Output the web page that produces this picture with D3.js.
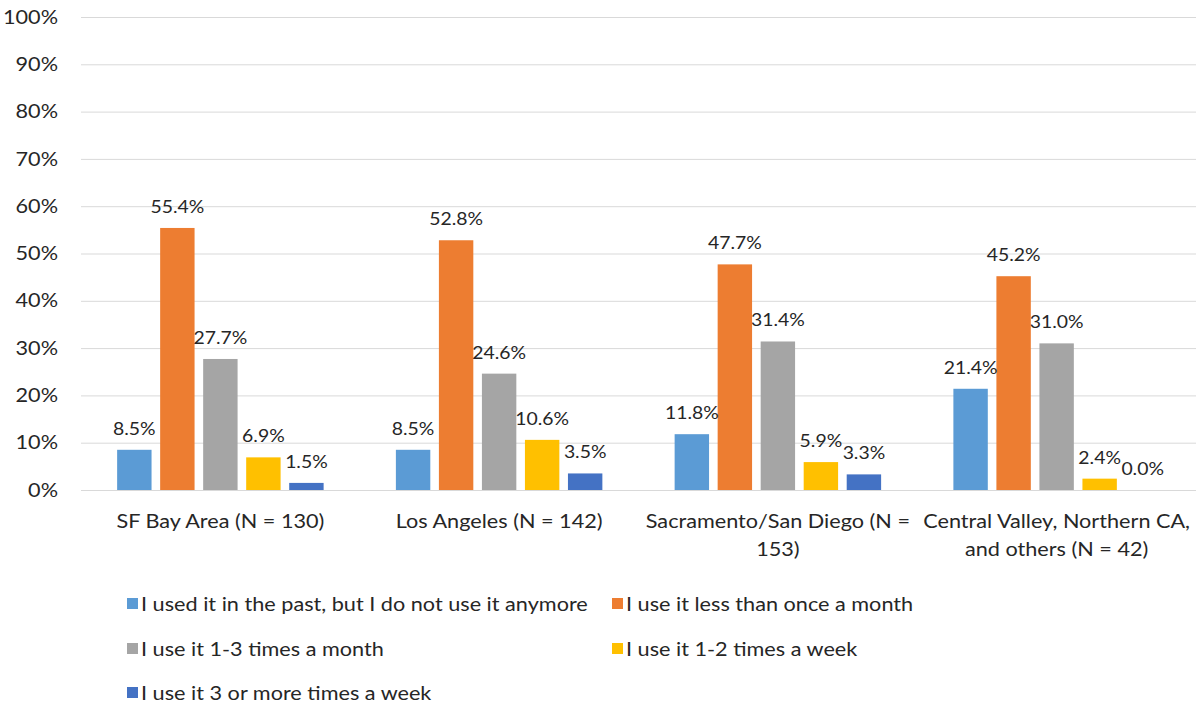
<!DOCTYPE html>
<meta charset="utf-8">
<style>
body { margin: 0; background: #fff; }
text { font-family: Lato, sans-serif; fill: #262626; }
.grid line { stroke: #d9d9d9; stroke-width: 1px; }
</style>
<svg width="1199" height="706"></svg>
<script src="https://cdn.jsdelivr.net/npm/d3@7"></script>
<script>
var categories = [
  ["SF Bay Area (N = 130)"],
  ["Los Angeles (N = 142)"],
  ["Sacramento/San Diego (N =", "153)"],
  ["Central Valley, Northern CA,", "and others (N = 42)"]
];
var seriesNames = [
  "I used it in the past, but I do not use it anymore",
  "I use it less than once a month",
  "I use it 1-3 times a month",
  "I use it 1-2 times a week",
  "I use it 3 or more times a week"
];
var values = [
  [8.5, 55.4, 27.7, 6.9, 1.5],
  [8.5, 52.8, 24.6, 10.6, 3.5],
  [11.8, 47.7, 31.4, 5.9, 3.3],
  [21.4, 45.2, 31.0, 2.4, 0.0]
];
var yTicks = [0, 10, 20, 30, 40, 50, 60, 70, 80, 90, 100];
var colors = ["#5b9bd5", "#ed7d31", "#a5a5a5", "#ffc000", "#4472c4"];

// the reference text is a little wider than Lato; stretch it horizontally
var sx = 1.14;

var svg = d3.select("svg"),
    plotLeft = 81, plotRight = 1196, plotTop = 17, plotBottom = 490;

var x0 = d3.scaleBand().domain(d3.range(categories.length)).range([plotLeft, plotRight]);
var x1 = d3.scaleBand().domain(d3.range(seriesNames.length))
    .range([0, x0.bandwidth()]).paddingInner(0.2).paddingOuter(0.84);
var y = d3.scaleLinear().domain([0, 100]).range([plotBottom, plotTop]);

var grid = svg.append("g").attr("class", "grid");
grid.selectAll("line").data(yTicks).enter().append("line")
    .attr("x1", plotLeft).attr("x2", plotRight)
    .attr("y1", function(d) { return y(d) + 0.5; })
    .attr("y2", function(d) { return y(d) + 0.5; });

svg.append("g").selectAll("g").data(yTicks).enter().append("g")
    .attr("transform", function(d) { return "translate(58," + y(d) + ") scale(" + sx + ",1)"; })
  .append("text")
    .attr("dy", "0.35em").attr("text-anchor", "end")
    .style("font-size", "19px")
    .text(function(d) { return d + "%"; });

var group = svg.selectAll(".cat").data(values).enter().append("g")
    .attr("class", "cat")
    .attr("transform", function(d, i) { return "translate(" + x0(i) + ",0)"; });

group.selectAll("rect").data(function(d) { return d; }).enter().append("rect")
    .attr("x", function(d, j) { return x1(j); })
    .attr("width", x1.bandwidth())
    .attr("y", function(d) { return y(d); })
    .attr("height", function(d) { return plotBottom - y(d); })
    .attr("fill", function(d, j) { return colors[j]; });

group.selectAll(".lbl").data(function(d) { return d; }).enter().append("g")
    .attr("class", "lbl")
    .attr("transform", function(d, j) {
      return "translate(" + (x1(j) + x1.bandwidth() / 2) + "," + (y(d) - 15) + ") scale(" + sx + ",1)";
    })
  .append("text")
    .attr("text-anchor", "middle")
    .style("font-size", "17px")
    .text(function(d) { return d.toFixed(1) + "%"; });

svg.selectAll(".catlbl").data(categories).enter().append("g")
    .attr("class", "catlbl")
    .attr("transform", function(d, i) { return "translate(" + (x0(i) + x0.bandwidth() / 2) + ",528) scale(" + sx + ",1)"; })
  .append("text")
    .attr("text-anchor", "middle")
    .style("font-size", "19px")
  .selectAll("tspan").data(function(d) { return d; }).enter().append("tspan")
    .attr("x", 0).attr("y", function(d, k) { return k * 28; })
    .text(function(d) { return d; });

var legendPos = [[127, 604], [612, 604], [127, 649], [612, 649], [127, 693]];
var legend = svg.selectAll(".leg").data(seriesNames).enter().append("g")
    .attr("class", "leg")
    .attr("transform", function(d, i) { return "translate(" + legendPos[i][0] + "," + legendPos[i][1] + ")"; });
legend.append("rect").attr("x", 0).attr("y", -6).attr("width", 11).attr("height", 11)
    .attr("fill", function(d, i) { return colors[i]; });
legend.append("g").attr("transform", "translate(14,0) scale(" + sx + ",1)")
  .append("text").attr("dy", "0.35em")
    .style("font-size", "19px")
    .text(function(d) { return d; });
</script>
